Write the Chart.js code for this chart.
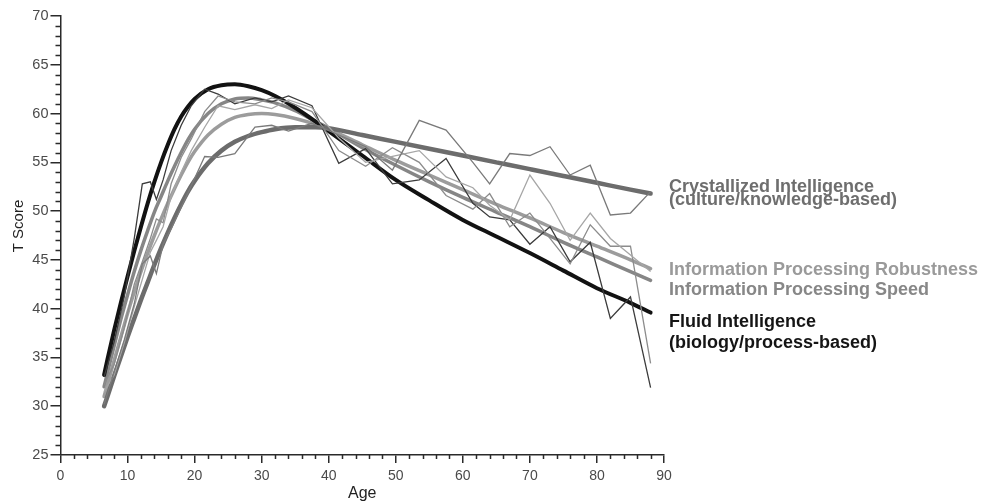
<!DOCTYPE html>
<html>
<head>
<meta charset="utf-8">
<script src="https://cdn.jsdelivr.net/npm/chart.js@4.4.1/dist/chart.umd.min.js"></script>
<style>
  html, body { margin: 0; padding: 0; background: #fff; }
  #wrap { width: 987px; height: 503px; position: relative; }
</style>
</head>
<body>
<div id="wrap"><canvas id="chart"></canvas></div>
<script>
// smoothed curves (age -> T score)
const fitAges = [6.5, 7, 8, 9, 10, 11, 12, 13, 14, 15, 16, 17, 18, 19, 20, 22, 24, 26, 28, 30, 32, 35, 38, 40, 45, 50, 55, 60, 65, 70, 75, 80, 85, 88];
const fluidFit = [33.2, 34.8, 37.8, 40.6, 43.3, 45.9, 48.4, 50.8, 53.0, 55.0, 56.8, 58.4, 59.7, 60.7, 61.5, 62.5, 62.9, 63.0, 62.8, 62.4, 61.8, 60.6, 59.2, 58.2, 55.7, 53.2, 51.1, 49.1, 47.4, 45.7, 43.9, 42.1, 40.6, 39.6];
const speedFit = [32.0, 33.4, 36.2, 38.9, 41.4, 43.8, 46.0, 48.0, 49.9, 51.5, 53.1, 54.6, 56.0, 57.3, 58.4, 60.0, 61.0, 61.5, 61.6, 61.4, 61.1, 60.3, 59.2, 58.5, 56.5, 54.7, 53.0, 51.4, 49.9, 48.4, 46.8, 45.3, 43.8, 42.9];
const robustFit = [31.0, 32.2, 34.7, 37.1, 39.5, 41.7, 43.8, 45.7, 47.5, 49.2, 50.8, 52.3, 53.7, 55.0, 56.1, 57.8, 58.9, 59.6, 59.9, 60.0, 59.9, 59.5, 58.9, 58.4, 56.8, 55.2, 53.7, 52.2, 50.7, 49.3, 47.8, 46.4, 45.0, 44.1];
const crystalFit = [30.0, 31.0, 33.1, 35.1, 37.1, 39.0, 40.9, 42.7, 44.5, 46.2, 47.8, 49.3, 50.7, 52.0, 53.1, 54.9, 56.2, 57.1, 57.7, 58.1, 58.4, 58.6, 58.6, 58.5, 57.8, 57.1, 56.4, 55.7, 55.0, 54.3, 53.6, 52.9, 52.2, 51.8];

// raw age-group means
const rawAges = [6.5, 8, 9.5, 11, 12.2, 13.4, 14.3, 15.3, 16.5, 18, 19.5, 21.5, 23.5, 26, 29, 31.5, 34, 37.5, 41.5, 45.5, 49.5, 53.5, 57.5, 61.5, 64, 67, 70, 73, 76, 79, 82, 85, 88];
const fluidRaw = [33.0, 36.6, 41.2, 47.2, 52.8, 53.0, 51.2, 53.2, 56.2, 58.8, 60.8, 62.5, 62.0, 61.0, 61.6, 61.2, 61.8, 60.8, 54.9, 56.4, 52.8, 53.2, 55.4, 50.8, 49.4, 49.1, 46.6, 48.4, 44.8, 46.8, 39.0, 41.2, 31.9];
const speedRaw = [32.2, 34.3, 38.0, 42.5, 44.8, 47.2, 49.2, 48.8, 52.8, 55.5, 57.4, 60.2, 61.8, 61.2, 61.0, 61.6, 61.2, 60.2, 56.2, 54.6, 56.5, 55.0, 51.6, 50.2, 51.8, 48.4, 49.8, 47.2, 44.6, 48.6, 46.4, 46.4, 34.4];
const robustRaw = [31.5, 33.2, 36.5, 40.2, 43.0, 45.8, 47.0, 48.4, 51.5, 54.0, 56.2, 58.6, 60.8, 60.4, 60.9, 60.5, 61.4, 60.6, 57.5, 55.0, 55.6, 56.2, 53.5, 52.4, 50.6, 49.1, 53.7, 50.8, 47.0, 49.8, 47.2, 45.5, 43.8];
const crystalRaw = [30.2, 33.5, 36.8, 40.5, 44.6, 45.4, 43.6, 46.6, 48.2, 50.4, 52.6, 55.6, 55.5, 55.9, 58.6, 58.8, 58.2, 59.0, 57.8, 56.6, 54.2, 59.3, 58.3, 55.0, 52.8, 55.9, 55.7, 56.6, 53.7, 54.7, 49.6, 49.8, 52.0];

const xTicks = [0, 10, 20, 30, 40, 50, 60, 70, 80, 90];
const yTicks = [25, 30, 35, 40, 45, 50, 55, 60, 65, 70];

const axisColor = '#2a2a2a';
const labelFont = 'Liberation Sans, Arial, Helvetica, sans-serif';

Chart.defaults.font.family = labelFont;

function pts(xs, ys) {
  return xs.map((x, i) => ({ x: x, y: ys[i] }));
}

function fitSet(name, xs, ys, color, width, order) {
  return {
    label: name, data: pts(xs, ys), borderColor: color, borderWidth: width,
    cubicInterpolationMode: 'monotone', pointRadius: 0, fill: false,
    borderCapStyle: 'round', order: order
  };
}

function rawSet(name, xs, ys, color, order) {
  return {
    label: name, data: pts(xs, ys), borderColor: color, borderWidth: 1.3,
    tension: 0, pointRadius: 0, fill: false, order: order
  };
}

// side labels, minor ticks and axis titles
const decorations = {
  id: 'decorations',
  afterDraw(chart) {
    const ctx = chart.ctx;
    const xs = chart.scales.x, ys = chart.scales.y;
    ctx.save();
    ctx.strokeStyle = axisColor;
    ctx.lineWidth = 1.5;
    ctx.beginPath();
    for (let v = 0; v <= 90; v += 2) {
      if (v % 10 === 0) continue;
      const px = Math.round(xs.getPixelForValue(v)) + 0.5;
      ctx.moveTo(px, ys.bottom);
      ctx.lineTo(px, ys.bottom + 4);
    }
    for (let v = 25; v <= 70; v++) {
      if (v % 5 === 0) continue;
      const py = Math.round(ys.getPixelForValue(v)) + 0.5;
      ctx.moveTo(xs.left, py);
      ctx.lineTo(xs.left - 5, py);
    }
    ctx.stroke();

    ctx.fillStyle = '#222';
    ctx.font = '16px ' + labelFont;
    ctx.textAlign = 'center';
    ctx.textBaseline = 'alphabetic';
    ctx.fillText('Age', (xs.left + xs.right) / 2, 498);

    ctx.save();
    ctx.translate(23, 226);
    ctx.rotate(-Math.PI / 2);
    ctx.font = '15px ' + labelFont;
    ctx.fillText('T Score', 0, 0);
    ctx.restore();

    const lines = [
      ['Crystallized Intelligence', '#6e6e6e', 191.5],
      ['(culture/knowledge-based)', '#6e6e6e', 205],
      ['Information Processing Robustness', '#9a9a9a', 275],
      ['Information Processing Speed', '#878787', 295],
      ['Fluid Intelligence', '#151515', 326.5],
      ['(biology/process-based)', '#151515', 348]
    ];
    ctx.font = 'bold 18px ' + labelFont;
    ctx.textAlign = 'left';
    lines.forEach(l => {
      ctx.fillStyle = l[1];
      ctx.fillText(l[0], 669, l[2]);
    });
    ctx.restore();
  }
};

new Chart(document.getElementById('chart'), {
  type: 'line',
  data: {
    datasets: [
      rawSet('Crystallized raw', rawAges, crystalRaw, '#7a7a7a', 1),
      rawSet('Robustness raw', rawAges, robustRaw, '#a6a6a6', 1),
      rawSet('Speed raw', rawAges, speedRaw, '#8c8c8c', 1),
      rawSet('Fluid raw', rawAges, fluidRaw, '#3c3c3c', 1),
      fitSet('Information Processing Robustness', fitAges, robustFit, '#9c9c9c', 3.5, 3),
      fitSet('Information Processing Speed', fitAges, speedFit, '#868686', 3.5, 3),
      fitSet('Crystallized Intelligence', fitAges, crystalFit, '#6c6c6c', 4.5, 2),
      fitSet('Fluid Intelligence', fitAges, fluidFit, '#121212', 4, 2)
    ]
  },
  options: {
    responsive: true,
    maintainAspectRatio: false,
    animation: false,
    events: [],
    layout: { padding: { left: 0, right: 323, top: 16, bottom: 0 } },
    plugins: { legend: { display: false }, tooltip: { enabled: false } },
    scales: {
      x: {
        type: 'linear', min: 0, max: 90,
        afterFit(scale) { scale.height = 48; },
        afterBuildTicks(scale) { scale.ticks = xTicks.map(v => ({ value: v })); },
        border: { display: true, color: axisColor, width: 1.5 },
        grid: { display: true, drawOnChartArea: false, drawTicks: true, tickLength: 8, color: axisColor, lineWidth: 1.5 },
        ticks: { color: '#4a4a4a', padding: 5, font: { size: 14 }, maxRotation: 0 }
      },
      y: {
        type: 'linear', min: 25, max: 70,
        afterFit(scale) { scale.width = 60.5; },
        afterBuildTicks(scale) { scale.ticks = yTicks.map(v => ({ value: v })); },
        border: { display: true, color: axisColor, width: 1.5 },
        grid: { display: true, drawOnChartArea: false, drawTicks: true, tickLength: 10, color: axisColor, lineWidth: 1.5 },
        ticks: { color: '#4a4a4a', padding: 2, font: { size: 14.5 } }
      }
    }
  },
  plugins: [decorations]
});
</script>
</body>
</html>
